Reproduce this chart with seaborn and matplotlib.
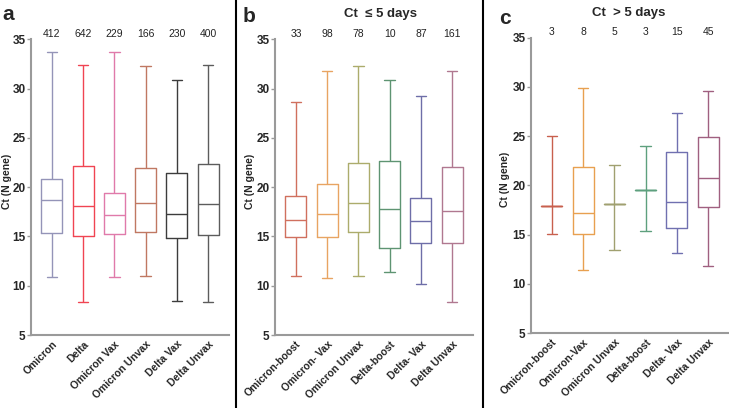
import pandas as pd
import matplotlib
matplotlib.use('Agg')
import matplotlib.pyplot as plt
import seaborn as sns

sns.set_style('white')
plt.rcParams['font.family'] = ['Liberation Sans', 'DejaVu Sans']

# panel a: all samples
groups_a = ['Omicron', 'Delta', 'Omicron Vax', 'Omicron Unvax', 'Delta Vax', 'Delta Unvax']
n_a = [412, 642, 229, 166, 230, 400]
min_a = [10.9, 8.3, 10.9, 11.0, 8.4, 8.3]
q1_a = [15.3, 15.0, 15.2, 15.4, 14.8, 15.1]
med_a = [18.7, 18.1, 17.2, 18.4, 17.3, 18.3]
q3_a = [20.8, 22.1, 19.4, 21.9, 21.4, 22.3]
max_a = [33.7, 32.4, 33.7, 32.3, 30.9, 32.4]
colors_a = ['#9494b8', '#f04452', '#e07aaa', '#c07862', '#3c3c3c', '#5c5c5c']

# panel b: Ct <= 5 days
groups_b = ['Omicron-boost', 'Omicron- Vax', 'Omicron Unvax', 'Delta-boost', 'Delta- Vax', 'Delta Unvax']
n_b = [33, 98, 78, 10, 87, 161]
min_b = [11.0, 10.8, 11.0, 11.4, 10.2, 8.3]
q1_b = [14.9, 14.9, 15.5, 13.8, 14.3, 14.3]
med_b = [16.7, 17.3, 18.4, 17.8, 16.6, 17.6]
q3_b = [19.1, 20.3, 22.5, 22.7, 18.9, 22.0]
max_b = [28.6, 31.8, 32.3, 30.9, 29.2, 31.8]
colors_b = ['#d0705e', '#e8a462', '#acac6c', '#5e9472', '#6e6ea8', '#b07890']

# panel c: Ct > 5 days
groups_c = ['Omicron-boost', 'Omicron-Vax', 'Omicron Unvax', 'Delta-boost', 'Delta- Vax', 'Delta Unvax']
n_c = [3, 8, 5, 3, 15, 45]
min_c = [15.1, 11.4, 13.4, 15.4, 13.1, 11.8]
q1_c = [17.9, 15.1, 18.1, 19.5, 15.7, 17.8]
med_c = [17.9, 17.2, 18.1, 19.5, 18.3, 20.7]
q3_c = [17.9, 21.9, 18.1, 19.5, 23.4, 24.9]
max_c = [25.0, 29.9, 22.1, 24.0, 27.4, 29.6]
colors_c = ['#c8604e', '#e8a050', '#a0a070', '#5ea07e', '#7070b0', '#a06080']


def summary_frame(groups, mins, q1s, meds, q3s, maxs):
    rows = []
    for g, a, b, c, d, e in zip(groups, mins, q1s, meds, q3s, maxs):
        for v in (a, b, c, d, e):
            rows.append({'group': g, 'ct': v})
    return pd.DataFrame(rows)


fig = plt.figure(figsize=(7.29, 4.08), dpi=100)
W, H = 729, 408

panels = [
    (groups_a, n_a, min_a, q1_a, med_a, q3_a, max_a, colors_a, 31, 229, 39.3, 335, -0.097),
    (groups_b, n_b, min_b, q1_b, med_b, q3_b, max_b, colors_b, 275, 473, 39.3, 335, -0.101),
    (groups_c, n_c, min_c, q1_c, med_c, q3_c, max_c, colors_c, 531, 729, 37.7, 333, -0.106),
]

for groups, ns, mn, q1, md, q3, mx, cols, x0, x1, ytop, ybot, labx in panels:
    ax = fig.add_axes([x0 / W, 1 - ybot / H, (x1 - x0) / W, (ybot - ytop) / H])
    df = summary_frame(groups, mn, q1, md, q3, mx)
    sns.boxplot(data=df, x='group', y='ct', hue='group', palette=cols, fill=False,
                whis=(0, 100), width=0.67, linewidth=1, legend=False, ax=ax)
    ax.set_ylim(5, 35)
    ax.set_xlim(-0.67, 5.67)
    ax.set_yticks([5, 10, 15, 20, 25, 30, 35])
    ax.set_xlabel('')
    ax.set_ylabel('Ct (N gene)', fontsize=7.5, fontweight='bold')
    ax.yaxis.set_label_coords(labx, 0.52)
    for s in ['top', 'right']:
        ax.spines[s].set_visible(False)
    for s in ['left', 'bottom']:
        ax.spines[s].set_color('#9a9a9a')
        ax.spines[s].set_linewidth(1.5)
    ax.tick_params(axis='y', length=3, width=1, color='#9a9a9a', labelsize=8.5, pad=1, left=True)
    ax.tick_params(axis='x', length=0, labelsize=7.5, pad=3)
    for lab in ax.get_yticklabels():
        lab.set_fontweight('bold')
    ax.set_xticks(range(len(groups)))
    ax.set_xticklabels(groups, rotation=45, ha='right', rotation_mode='anchor', fontweight='bold')
    for i, n in enumerate(ns):
        ax.text(i, 35.55, str(n), ha='center', va='center', fontsize=7.5, color='#222222', clip_on=False)
    ax.patch.set_alpha(0)

fig.text(2 / W, 1 - 15 / H, 'a', fontsize=15, fontweight='bold', va='center', ha='left')
fig.text(243 / W, 1 - 16 / H, 'b', fontsize=15, fontweight='bold', va='center', ha='left')
fig.text(499 / W, 1 - 19 / H, 'c', fontsize=15, fontweight='bold', va='center', ha='left')
fig.text(380 / W, 1 - 14 / H, 'Ct  \u2264 5 days', fontsize=9.5, fontweight='bold', va='center', ha='center')
fig.text(629 / W, 1 - 13 / H, 'Ct  > 5 days', fontsize=9.5, fontweight='bold', va='center', ha='center')

# panel separators
fig.add_artist(plt.Line2D([236 / W, 236 / W], [0, 1], color='black', linewidth=1.5))
fig.add_artist(plt.Line2D([483.5 / W, 483.5 / W], [0, 1], color='black', linewidth=1.5))

fig.savefig('out.png', dpi=100)
